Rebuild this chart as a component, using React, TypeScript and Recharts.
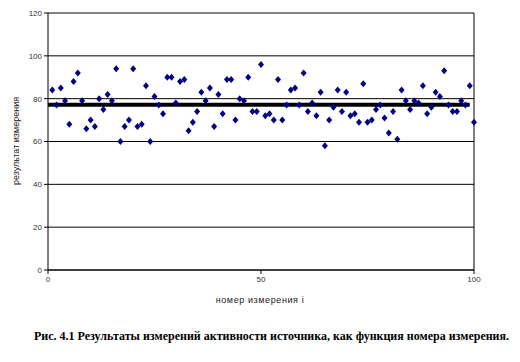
import React from "react";
import { CartesianGrid, ReferenceLine, Scatter, ScatterChart, XAxis, YAxis } from "recharts";

// measurement results, one per measurement number i = 1..100
const measurements = [
  84, 77, 85, 79, 68, 88, 92, 79, 66, 70,
  67, 80, 75, 82, 79, 94, 60, 67, 70, 94,
  67, 68, 86, 60, 81, 77, 73, 90, 90, 78,
  88, 89, 65, 69, 74, 83, 79, 85, 67, 82,
  73, 89, 89, 70, 80, 79, 90, 74, 74, 96,
  72, 73, 70, 89, 70, 77, 84, 85, 77, 92,
  74, 78, 72, 83, 58, 70, 76, 84, 74, 83,
  72, 73, 69, 87, 69, 70, 75, 77, 71, 64,
  74, 61, 84, 79, 75, 79, 78, 86, 73, 76,
  83, 81, 93, 77, 74, 74, 79, 77, 86, 69
];

const meanLevel = 77.2;
const meanSpan = [0, 99];

const yTicks = [0, 20, 40, 60, 80, 100, 120];
const xTicks = [0, 50, 100];

const points = measurements.map((v, i) => ({ n: i + 1, value: v }));

const tickStyle = { fill: "#333", fontSize: 8, fontFamily: "Liberation Sans, Arial, sans-serif" };

const Diamond = (props: any) => {
  const { cx, cy } = props;
  if (cx == null || cy == null) return null;
  return (
    <polygon
      points={`${cx},${cy - 3.5} ${cx + 3},${cy} ${cx},${cy + 3.5} ${cx - 3},${cy}`}
      fill="#000080"
    />
  );
};

export default function App() {
  return (
    <div style={{ position: "absolute", left: 0, top: 0, width: 520, height: 362, background: "#fff" }}>
      <ScatterChart width={520} height={290} margin={{ top: 13, right: 46, bottom: 0, left: 18 }}>
        <CartesianGrid vertical={false} stroke="#000" strokeWidth={1} />
        <XAxis
          type="number"
          dataKey="n"
          domain={[0, 100]}
          ticks={xTicks}
          height={20}
          stroke="#000"
          tickSize={4}
          tick={tickStyle}
        />
        <YAxis
          type="number"
          dataKey="value"
          domain={[0, 120]}
          ticks={yTicks}
          width={30}
          stroke="#000"
          tickSize={4}
          tick={tickStyle}
        />
        <ReferenceLine x={100} stroke="#000" strokeWidth={1} />
        <ReferenceLine
          segment={[
            { x: meanSpan[0], y: meanLevel },
            { x: meanSpan[1], y: meanLevel }
          ]}
          stroke="#000"
          strokeWidth={4}
        />
        <Scatter data={points} shape={Diamond} isAnimationActive={false} />
      </ScatterChart>
      <div
        style={{
          position: "absolute",
          left: 16,
          top: 141,
          transform: "translate(-50%, -50%) rotate(-90deg)",
          whiteSpace: "nowrap",
          fontSize: 9,
          fontFamily: "Liberation Sans, Arial, sans-serif",
          color: "#222"
        }}
      >
        результат измерения
      </div>
      <div
        style={{
          position: "absolute",
          left: 0,
          width: 520,
          top: 295,
          textAlign: "center",
          fontSize: 9,
          letterSpacing: 0.6,
          fontFamily: "Liberation Sans, Arial, sans-serif",
          color: "#222"
        }}
      >
        номер измерения i
      </div>
      <div
        style={{
          position: "absolute",
          left: 0,
          width: 543,
          top: 329,
          textAlign: "center",
          fontSize: 12,
          fontWeight: "bold",
          fontFamily: "Liberation Serif, Times New Roman, serif",
          color: "#000",
          whiteSpace: "nowrap"
        }}
      >
        Рис. 4.1 Результаты измерений активности источника, как функция номера измерения.
      </div>
    </div>
  );
}
